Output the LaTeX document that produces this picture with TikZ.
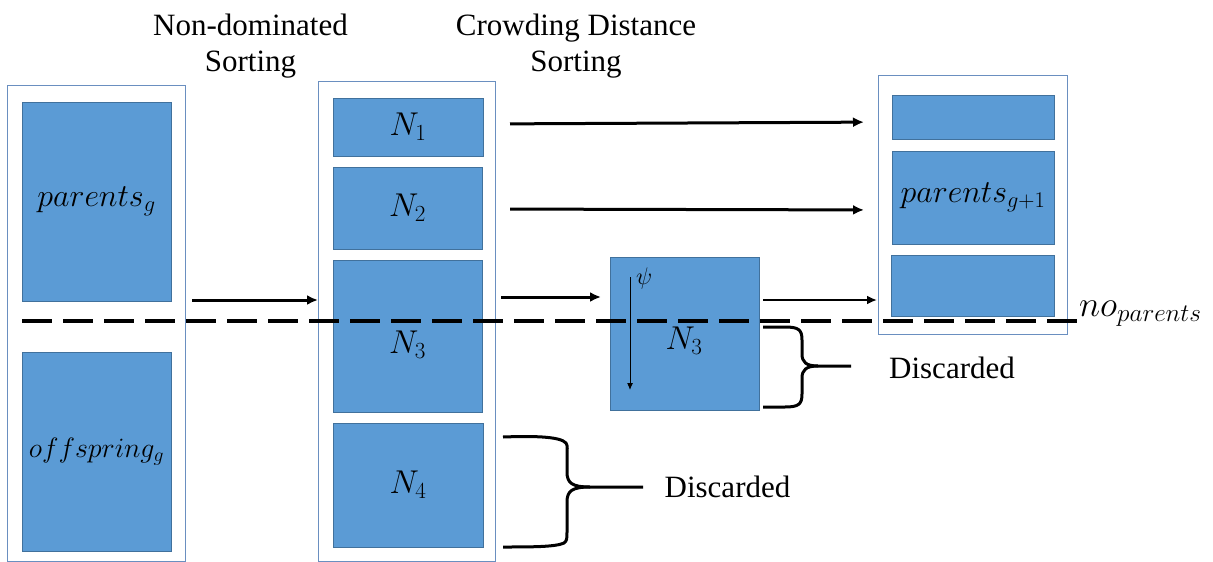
\RequirePackage{fix-cm}
\documentclass[tikz,border=0pt]{standalone}
\usepackage{fontspec}
\setmainfont{Liberation Serif}
\usetikzlibrary{arrows.meta}
\definecolor{boxblue}{HTML}{5B9BD5}
\definecolor{boxedge}{HTML}{41719C}
\definecolor{outeredge}{HTML}{6A8FC0}
\tikzset{
  outerbox/.style={draw=outeredge, line width=1pt, fill=white, inner sep=0pt, outer sep=0pt},
  bluebox/.style={draw=boxedge, line width=0.8pt, fill=boxblue, inner sep=0pt, outer sep=0pt},
  titletext/.style={font=\fontsize{31}{36}\selectfont, inner sep=0pt, anchor=base},
  disctext/.style={font=\fontsize{31}{36}\selectfont, inner sep=0pt},
  nlabel/.style={font=\fontsize{33}{36}\selectfont, inner sep=0pt},
  bigarrow/.style={line width=3pt, -{Latex[length=11pt,width=10pt]}},
  thinarrow/.style={line width=1pt, -{Latex[length=7pt,width=6pt]}},
  cutline/.style={line width=4pt, dash pattern=on 30pt off 11pt},
  bracepath/.style={line width=3pt, line join=round}
}
\begin{document}
\begin{tikzpicture}[x=1pt,y=-1pt]
\useasboundingbox (0,0) rectangle (1213,562);
\fill[white] (0,0) rectangle (1213,562);

% titles
\node[titletext] (t1a) at (250.5,35) {Non-dominated};
\node[titletext] (t1b) at (250.5,71) {Sorting};
\node[titletext] (t2a) at (576,35) {Crowding Distance};
\node[titletext] (t2b) at (576,71) {Sorting};

% left column
\node[outerbox, minimum width=178pt, minimum height=476pt] (Lout) at (96,323) {};
\node[bluebox, minimum width=149pt, minimum height=199pt] (par) at (96.5,201.5)
  {\fontsize{32}{36}\selectfont $parents_g$};
\node[bluebox, minimum width=149pt, minimum height=199pt] (off) at (96.5,451.5)
  {\fontsize{28}{32}\selectfont $offspring_g$};

% middle column
\node[outerbox, minimum width=177pt, minimum height=480pt] (Mout) at (406.5,321) {};
\node[bluebox, nlabel, minimum width=150pt, minimum height=58pt] (N1) at (408,127) {$N_1$};
\node[bluebox, nlabel, minimum width=149pt, minimum height=82pt] (N2) at (407.5,208) {$N_2$};
\node[bluebox, minimum width=149pt, minimum height=152pt] (N3) at (407.5,336) {};
\node[bluebox, nlabel, minimum width=150pt, minimum height=124pt] (N4) at (408,485) {$N_4$};

% crowding-distance box
\node[bluebox, minimum width=149pt, minimum height=153pt] (S) at (684.5,333.5) {};
\coordinate (psitop) at (630,277);
\coordinate (psibot) at (630,390);
\draw[thinarrow] (psitop) -- (psibot);
\node[anchor=west, inner sep=0pt, font=\fontsize{24}{28}\selectfont] (psi) at (636,278) {$\psi$};

% right column
\node[outerbox, minimum width=189pt, minimum height=259pt] (Rout) at (972.5,204.5) {};
\node[bluebox, minimum width=162pt, minimum height=44pt] (R1) at (973,117) {};
\node[bluebox, minimum width=162pt, minimum height=93pt] (R2) at (973,197.5)
  {\fontsize{32}{36}\selectfont $parents_{g+1}$};
\node[bluebox, minimum width=163pt, minimum height=61pt] (R3) at (972.5,285.5) {};

% dashed cut line
\coordinate (cutL) at (22,321);
\coordinate (cutR) at (1087,321);
\draw[cutline] (cutL) -- (cutR);

% labels of the N3 boxes (drawn over the cut line)
\node[nlabel] (N3lab) at (407.5,345) {$N_3$};
\node[nlabel] (Slab) at (684,341) {$N_3$};
\node[anchor=base west, inner sep=0pt, font=\fontsize{36}{40}\selectfont] (nop) at (1079,316) {$no_{parents}$};

% arrows
\draw[bigarrow] ([yshift=23pt]Lout.east) ++(7,0) coordinate (a0s) -- ([yshift=21pt]Mout.west) coordinate (a0e);
\draw[bigarrow, shorten <=27pt, shorten >=28pt] ([yshift=3pt]N1.east) -- ([yshift=-5pt]R1.west);
\draw[bigarrow, shorten <=28pt, shorten >=28pt] ([yshift=-1pt]N2.east) -- ([yshift=-12.5pt]R2.west);
\draw[bigarrow, shorten <=6pt, shorten >=9pt] ([yshift=24pt]Mout.east) -- ([yshift=36.5pt]S.west);
\draw[line width=2.6pt, -{Latex[length=10pt,width=9pt]}, shorten <=4pt, shorten >=1pt] ([yshift=33.5pt]S.east) -- ([yshift=-95.5pt]Rout.west);

% upper brace
\draw[bracepath] (763,327) -- (785,327) .. controls (799,327) and (802,330) .. (802,340)
  -- (802,354) .. controls (802,362) and (806,366) .. (818,366) -- (851,366);
\draw[bracepath] (818,366) .. controls (806,366) and (802,370) .. (802,378)
  -- (802,394) .. controls (802,404) and (799,407) .. (785,407) -- (763,407);
\node[disctext] (d1) at (952,368) {Discarded};

% lower brace
\draw[bracepath] (503,437) .. controls (530,436) and (560,436) .. (566,443)
  .. controls (568,446) and (567,450) .. (567,455)
  -- (567,472) .. controls (567,483) and (572,487) .. (590,487) -- (643,487);
\draw[bracepath] (590,487) .. controls (572,487) and (567,491) .. (567,502)
  -- (567,532) .. controls (567,538) and (567,541) .. (564,543)
  .. controls (556,547) and (530,547) .. (503,547);
\node[disctext] (d2) at (727.5,487) {Discarded};
\end{tikzpicture}
\end{document}
